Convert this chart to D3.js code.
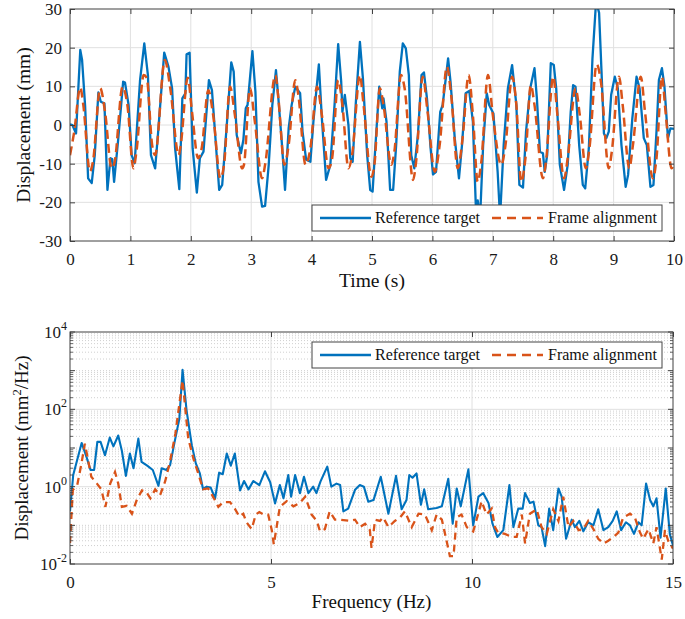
<!DOCTYPE html>
<html>
<head>
<meta charset="utf-8">
<script src="https://cdn.jsdelivr.net/npm/d3@7"></script>
<style>
  html, body { margin: 0; padding: 0; background: #fff; }
  svg { display: block; font-family: "Liberation Serif", "Times New Roman", serif; }
</style>
</head>
<body>
<svg id="chart" width="685" height="619"></svg>
<script>
// ---------------- Data: time history (top) ----------------
const blueT = [0,0.04,0.1,0.17,0.2,0.25,0.3,0.36,0.41,0.47,0.51,0.57,0.62,0.67,0.7,0.73,0.8,0.88,0.91,0.97,1.02,1.07,1.16,1.23,1.29,1.34,1.41,1.46,1.56,1.63,1.69,1.74,1.81,1.86,1.91,1.93,1.98,2.03,2.1,2.15,2.21,2.3,2.35,2.4,2.47,2.52,2.6,2.67,2.71,2.76,2.83,2.87,2.91,2.94,3.02,3.07,3.12,3.18,3.23,3.29,3.35,3.41,3.45,3.51,3.56,3.62,3.67,3.73,3.81,3.85,3.91,3.98,4.03,4.12,4.17,4.24,4.31,4.38,4.44,4.49,4.51,4.55,4.61,4.64,4.68,4.73,4.8,4.85,4.92,4.97,5.01,5.04,5.12,5.17,5.19,5.24,5.3,5.35,5.4,5.46,5.51,5.56,5.61,5.65,5.7,5.76,5.82,5.86,5.91,5.97,6.01,6.06,6.13,6.17,6.26,6.3,6.37,6.44,6.49,6.55,6.61,6.67,6.72,6.75,6.79,6.84,6.9,6.94,7.01,7.08,7.12,7.18,7.25,7.32,7.39,7.44,7.5,7.55,7.62,7.69,7.73,7.78,7.83,7.86,7.9,7.96,8.01,8.05,8.11,8.18,8.24,8.29,8.33,8.37,8.43,8.49,8.53,8.59,8.65,8.71,8.76,8.8,8.84,8.88,8.92,8.96,9.02,9.07,9.13,9.2,9.24,9.31,9.38,9.43,9.5,9.55,9.61,9.66,9.71,9.75,9.8,9.84,9.9,9.94,10];
const blueV = [0.2,0,-2.2,19.4,16.8,5,-13.8,-15,-7.8,8.4,6,5.6,-16.8,-8.6,-8.8,-14.7,-3.4,11.2,11,5.2,-7.8,-9.9,11.6,21.1,12.9,-7.8,-11.2,-1.7,18.7,15.1,9.5,-6,-16.6,6.9,8.2,18.3,18.7,-6,-17.5,-8.6,-6.9,11.6,9,-1.7,-16.8,-15.5,0.9,16.2,13.8,-2.6,-7.3,-3.9,4.3,5.2,19.1,8.6,-14.7,-21.1,-20.9,-10.3,5.2,14.2,6.9,-5.2,-16.8,-0.9,5.2,9.9,8.2,-1.7,-9,-9.5,0.9,15.7,1.7,-14.2,-10.3,5.2,20.9,11.2,3.4,7.8,0,-8.6,-9.5,5.2,21.5,12,-7.8,-16.8,-17.2,-9.5,9.9,4.3,6.9,0.9,-16.8,-16.8,-5.2,13.8,21.1,19.8,12.9,-7.8,-11.2,-2.6,12.9,13.6,6.9,-6,-12.8,-12.1,3.4,5.2,17.2,11.2,-3.4,-13.8,-5.2,8.2,8.8,0.9,-21.5,-19.5,-24,-5.2,8.2,5.2,3,-12.1,-24,-5.2,9.5,15.5,5.2,-15.5,-16.2,-1.7,9.5,14.7,6.9,-6.9,-7.3,-12.1,-7.8,16,15.5,9.5,-10.3,-16.8,-10.3,3.4,10.3,9.9,-5.2,-15.5,-16.4,-6,17.2,32,29,13.8,-2.2,-3.4,-1.7,7.8,12.5,9.5,-5.2,-16,-12.9,1.7,12.5,9.5,-3.4,-5.2,-16,-15.5,-1.7,11.6,14.7,10.3,-3.4,-0.9,-1];

const orangeT = [0,0.07,0.17,0.22,0.33,0.38,0.5,0.58,0.69,0.74,0.87,0.95,1.05,1.1,1.22,1.27,1.36,1.41,1.57,1.66,1.8,1.83,1.95,2.02,2.12,2.18,2.29,2.37,2.49,2.55,2.65,2.73,2.85,2.88,2.98,3.06,3.18,3.23,3.4,3.45,3.55,3.62,3.73,3.78,3.9,3.98,4.09,4.17,4.28,4.34,4.44,4.51,4.61,4.67,4.8,4.86,4.99,5.04,5.13,5.19,5.32,5.37,5.48,5.54,5.68,5.73,5.84,5.92,6.04,6.12,6.24,6.31,6.42,6.5,6.6,6.67,6.75,6.81,6.92,7.0,7.14,7.21,7.32,7.39,7.47,7.54,7.63,7.69,7.83,7.88,8.0,8.07,8.18,8.24,8.37,8.44,8.54,8.6,8.72,8.79,8.92,8.97,9.09,9.15,9.26,9.32,9.45,9.52,9.65,9.71,9.8,9.86,9.96,10];
const orangeV = [-7.8,-1.7,9.7,5.2,-12,-9.5,9.5,3.4,-11.2,-9.5,9.9,5.2,-11.2,-6.9,12.9,12.2,-5.2,-7.8,16.8,9.5,-7.8,-5.6,12.2,3.4,-8.6,-6,9,2.6,-13.8,-10.3,9.9,2.6,-11.2,-10.3,9.5,0.9,-13.8,-10.3,12.9,6.9,-10.3,-5.2,11.6,7.8,-10.3,-6,9.9,2.6,-11.2,-8.6,11.6,5.2,-11.2,-7.8,12.9,5.2,-13.4,-10.3,9.5,5.2,-10.3,-6.9,12.9,9.5,-14.2,-9.5,12.5,3.4,-12.1,-5.2,15.1,7.8,-11.2,-3.4,12.9,2.6,-14.7,-9.5,12.9,2.6,-10.3,-5.2,12.5,5.2,-14.7,-8.6,10.3,5.2,-13.8,-9.5,12.5,2.6,-13.8,-8.6,9.5,2.6,-11.2,-6,15.7,11.2,-11.2,-6.9,12.5,5.2,-11.2,-5.2,12.5,3.4,-13.8,-8.6,12.5,3.4,-11.2,-10];

// ---------------- Data: PSD (bottom) ----------------
const freqBlue = [0,0.08,0.29,0.41,0.51,0.6,0.68,0.76,0.87,0.99,1.08,1.2,1.29,1.39,1.49,1.58,1.7,1.78,1.92,2.06,2.2,2.28,2.4,2.49,2.6,2.72,2.8,2.9,3.03,3.13,3.23,3.31,3.4,3.5,3.61,3.71,3.8,3.9,4.0,4.1,4.23,4.33,4.44,4.56,4.71,4.85,4.98,5.1,5.22,5.31,5.43,5.5,5.6,5.72,5.82,5.93,6.05,6.13,6.23,6.4,6.5,6.63,6.72,6.8,6.92,7.09,7.21,7.31,7.42,7.55,7.73,7.92,8.11,8.25,8.37,8.44,8.52,8.62,8.73,8.81,8.91,9.12,9.25,9.41,9.52,9.62,9.72,9.91,10.03,10.16,10.28,10.41,10.51,10.63,10.78,10.93,11.03,11.15,11.26,11.32,11.44,11.53,11.65,11.73,11.82,11.92,12.02,12.15,12.23,12.34,12.48,12.56,12.67,12.77,12.89,13.02,13.14,13.27,13.39,13.5,13.6,13.71,13.83,13.93,14.03,14.14,14.22,14.33,14.43,14.51,14.59,14.69,14.82,14.92,15];
const psdBlue = [0.23,2,13.5,5.9,2.7,2.7,14.4,14.4,6.5,18.6,11,21,8.5,1.9,7.2,3,17.5,4.4,3.5,2.7,1.05,3,2.7,3.6,14,57,1050,93,11.8,4,2.2,0.86,1,0.95,0.5,2.3,2.1,7.2,3.5,7.2,0.8,1.4,0.85,1.4,1.1,2.5,1.3,0.37,1.1,0.5,2,0.55,2,0.68,1.8,0.68,1,0.68,1.35,3.3,1,1.2,1.1,0.23,0.27,0.83,1.1,1,0.41,0.45,1.8,0.2,1.9,0.26,0.45,2,1.7,2.2,0.34,0.85,0.26,0.28,0.31,1.6,0.11,0.9,0.31,2.8,0.1,0.55,0.68,0.38,0.11,0.05,0.075,1.1,0.09,0.27,0.27,0.68,0.38,0.41,0.1,0.09,0.029,0.27,0.075,0.9,0.55,0.045,0.14,0.09,0.13,0.07,0.12,0.1,0.26,0.075,0.09,0.13,0.23,0.075,0.12,0.1,0.06,0.12,0.1,1.2,0.45,0.31,0.5,0.048,0.9,0.06,0.03];

const freqOrange = [0,0.07,0.18,0.28,0.37,0.53,0.67,0.78,0.88,1.0,1.12,1.2,1.29,1.41,1.54,1.66,1.79,1.89,2.0,2.12,2.24,2.37,2.49,2.62,2.8,2.94,3.07,3.19,3.31,3.44,3.58,3.69,3.81,3.98,4.1,4.21,4.31,4.39,4.52,4.62,4.71,4.82,4.93,5.02,5.07,5.22,5.39,5.56,5.72,5.85,6.01,6.14,6.22,6.34,6.46,6.59,6.72,6.96,7.09,7.21,7.34,7.46,7.5,7.59,7.71,7.79,7.92,8.08,8.21,8.33,8.5,8.67,8.83,9.0,9.12,9.25,9.33,9.45,9.54,9.62,9.74,9.87,10.03,10.13,10.24,10.36,10.49,10.57,10.65,10.82,10.99,11.11,11.24,11.32,11.44,11.61,11.73,11.86,12.02,12.15,12.27,12.4,12.52,12.65,12.77,12.89,13.02,13.14,13.27,13.39,13.52,13.64,13.76,13.93,14.05,14.18,14.26,14.39,14.51,14.59,14.72,14.8,14.88,15];
const psdOrange = [0.035,0.82,1.1,3.7,13,1.8,1.2,0.85,0.3,1.2,2.4,1.2,0.3,0.32,0.2,0.45,0.8,0.75,0.5,0.85,0.6,1.4,4.6,23,560,18,5.3,2.2,0.86,0.9,0.5,0.3,0.4,0.4,0.27,0.17,0.2,0.12,0.08,0.19,0.22,0.19,0.19,0.075,0.032,0.3,0.42,0.31,0.38,0.55,0.19,0.13,0.07,0.08,0.23,0.14,0.14,0.13,0.14,0.09,0.11,0.075,0.026,0.14,0.13,0.16,0.09,0.13,0.16,0.23,0.09,0.2,0.19,0.075,0.19,0.14,0.06,0.016,0.016,0.16,0.19,0.09,0.07,0.16,0.42,0.19,0.27,0.09,0.065,0.06,0.05,0.05,0.19,0.034,0.2,0.26,0.09,0.06,0.26,0.13,0.55,0.09,0.13,0.075,0.08,0.13,0.08,0.045,0.034,0.04,0.05,0.065,0.16,0.2,0.16,0.065,0.045,0.08,0.034,0.09,0.013,0.075,0.04,0.025];

const seriesNames = ["Reference target", "Frame alignment"];
const topXTicks = [0,1,2,3,4,5,6,7,8,9,10];
const topYTicks = [-30,-20,-10,0,10,20,30];
const botXTicks = [0,5,10,15];
const botYTicks = [-2,0,2,4]; // exponents
// ------------------------------------------------------

const BLUE = "#0072BD", ORANGE = "#D95319", AXIS = "#404040", GRID = "#e0e0e0";
const svg = d3.select("#chart");
const fmt = d => String(d);

function frame(g, x0, x1, y0, y1) {
  g.append("rect").attr("x", x0).attr("y", y0).attr("width", x1 - x0).attr("height", y1 - y0)
    .attr("fill", "none").attr("stroke", AXIS).attr("stroke-width", 1);
}

// ================= TOP PLOT =================
const T = {l: 70, r: 674, t: 9, b: 241};
const xT = d3.scaleLinear().domain([0, 10]).range([T.l, T.r]);
const yT = d3.scaleLinear().domain([-30, 30]).range([T.b, T.t]);
const gT = svg.append("g");

gT.append("g").selectAll("line").data(topXTicks.slice(1, -1)).join("line")
  .attr("x1", d => xT(d)).attr("x2", d => xT(d)).attr("y1", T.t).attr("y2", T.b)
  .attr("stroke", GRID).attr("stroke-width", 1);
gT.append("g").selectAll("line").data(topYTicks.slice(1, -1)).join("line")
  .attr("y1", d => yT(d)).attr("y2", d => yT(d)).attr("x1", T.l).attr("x2", T.r)
  .attr("stroke", GRID).attr("stroke-width", 1);

svg.append("clipPath").attr("id", "clipT").append("rect")
  .attr("x", T.l).attr("y", T.t).attr("width", T.r - T.l).attr("height", T.b - T.t);

const orangeData = orangeT.map((t, i) => [t, orangeV[i]]);
const blueData = blueT.map((t, i) => [t, blueV[i]]);
const plotT = gT.append("g").attr("clip-path", "url(#clipT)");
plotT.append("path").datum(blueData).attr("d", d3.line().x(d => xT(d[0])).y(d => yT(d[1])))
  .attr("fill", "none").attr("stroke", BLUE).attr("stroke-width", 2.3).attr("stroke-linejoin", "round");
plotT.append("path").datum(orangeData).attr("d", d3.line().x(d => xT(d[0])).y(d => yT(d[1])).curve(d3.curveMonotoneX))
  .attr("fill", "none").attr("stroke", ORANGE).attr("stroke-width", 2.5).attr("stroke-dasharray", "9,5");

const axBT = gT.append("g").attr("transform", `translate(0,${T.b})`)
  .call(d3.axisBottom(xT).tickValues(topXTicks).tickSize(-5).tickPadding(12).tickFormat(fmt));
const axTT = gT.append("g").attr("transform", `translate(0,${T.t})`)
  .call(d3.axisTop(xT).tickValues(topXTicks).tickSize(-5).tickFormat(""));
const axLT = gT.append("g").attr("transform", `translate(${T.l},0)`)
  .call(d3.axisLeft(yT).tickValues(topYTicks).tickSize(-5).tickPadding(8).tickFormat(fmt));
const axRT = gT.append("g").attr("transform", `translate(${T.r},0)`)
  .call(d3.axisRight(yT).tickValues(topYTicks).tickSize(-5).tickFormat(""));
[axBT, axTT, axLT, axRT].forEach(a => {
  a.select(".domain").remove();
  a.selectAll("line").attr("stroke", AXIS);
  a.selectAll("text").attr("font-family", "Liberation Serif").attr("font-size", 17).attr("fill", "#1a1a1a");
});
frame(gT, T.l, T.r, T.t, T.b);

gT.append("text").attr("x", (T.l + T.r) / 2).attr("y", 287).attr("text-anchor", "middle")
  .attr("font-size", 19.5).attr("fill", "#111").text("Time (s)");
gT.append("text").attr("transform", `translate(30,${(T.t + T.b) / 2}) rotate(-90)`).attr("text-anchor", "middle")
  .attr("font-size", 19.5).attr("fill", "#111").text("Displacement (mm)");

function legend(g, x, y, w, h) {
  g.append("rect").attr("x", x).attr("y", y).attr("width", w).attr("height", h)
    .attr("fill", "#fff").attr("stroke", "#444").attr("stroke-width", 1);
  const cy = y + h / 2;
  g.append("line").attr("x1", x + 8).attr("x2", x + 59).attr("y1", cy).attr("y2", cy)
    .attr("stroke", BLUE).attr("stroke-width", 2.3);
  g.append("text").attr("x", x + 63).attr("y", cy + 5).attr("font-size", 16).attr("fill", "#111").text(seriesNames[0]);
  g.append("line").attr("x1", x + 180).attr("x2", x + 231).attr("y1", cy).attr("y2", cy)
    .attr("stroke", ORANGE).attr("stroke-width", 2.5).attr("stroke-dasharray", "9,6");
  g.append("text").attr("x", x + 236).attr("y", cy + 5).attr("font-size", 16).attr("fill", "#111").text(seriesNames[1]);
}
legend(gT, 312, 205, 350, 26);

// ================= BOTTOM PLOT =================
const B = {l: 70, r: 673, t: 332, b: 564};
const xB = d3.scaleLinear().domain([0, 15]).range([B.l, B.r]);
const yB = d3.scaleLog().domain([1e-2, 1e4]).range([B.b, B.t]);
const gB = svg.append("g");

const minorVals = [];
for (let e = -2; e < 4; e++) for (let m = 2; m <= 9; m++) minorVals.push(m * Math.pow(10, e));
for (let e = -1; e <= 3; e += 2) minorVals.push(Math.pow(10, e));
gB.append("g").selectAll("line").data(minorVals).join("line")
  .attr("y1", d => yB(d)).attr("y2", d => yB(d)).attr("x1", B.l).attr("x2", B.r)
  .attr("stroke", "#c4c4c4").attr("stroke-width", 0.8).attr("stroke-dasharray", "1,2");
gB.append("g").selectAll("line").data(botYTicks.slice(1, -1)).join("line")
  .attr("y1", d => yB(Math.pow(10, d))).attr("y2", d => yB(Math.pow(10, d))).attr("x1", B.l).attr("x2", B.r)
  .attr("stroke", GRID).attr("stroke-width", 1);
gB.append("g").selectAll("line").data(botXTicks.slice(1, -1)).join("line")
  .attr("x1", d => xB(d)).attr("x2", d => xB(d)).attr("y1", B.t).attr("y2", B.b)
  .attr("stroke", GRID).attr("stroke-width", 1);

svg.append("clipPath").attr("id", "clipB").append("rect")
  .attr("x", B.l).attr("y", B.t).attr("width", B.r - B.l).attr("height", B.b - B.t);
const plotB = gB.append("g").attr("clip-path", "url(#clipB)");
const lineB = d3.line().x(d => xB(d[0])).y(d => yB(d[1]));
plotB.append("path").datum(freqBlue.map((f, i) => [f, psdBlue[i]])).attr("d", lineB)
  .attr("fill", "none").attr("stroke", BLUE).attr("stroke-width", 2.1).attr("stroke-linejoin", "round");
plotB.append("path").datum(freqOrange.map((f, i) => [f, psdOrange[i]])).attr("d", lineB)
  .attr("fill", "none").attr("stroke", ORANGE).attr("stroke-width", 2.3).attr("stroke-dasharray", "7,5");

const axBB = gB.append("g").attr("transform", `translate(0,${B.b})`)
  .call(d3.axisBottom(xB).tickValues(botXTicks).tickSize(-5).tickPadding(12).tickFormat(fmt));
const axTB = gB.append("g").attr("transform", `translate(0,${B.t})`)
  .call(d3.axisTop(xB).tickValues(botXTicks).tickSize(-5).tickFormat(""));
[axBB, axTB].forEach(a => {
  a.select(".domain").remove();
  a.selectAll("line").attr("stroke", AXIS);
  a.selectAll("text").attr("font-family", "Liberation Serif").attr("font-size", 17).attr("fill", "#1a1a1a");
});
const majorY = d3.range(-2, 5).map(e => Math.pow(10, e));
[[B.l, 1], [B.r, -1]].forEach(([x, s]) => {
  gB.append("g").selectAll("line").data(majorY).join("line")
    .attr("x1", x).attr("x2", x + s * 5).attr("y1", d => yB(d)).attr("y2", d => yB(d)).attr("stroke", AXIS);
  gB.append("g").selectAll("line").data(minorVals.filter(v => !majorY.includes(v))).join("line")
    .attr("x1", x).attr("x2", x + s * 3).attr("y1", d => yB(d)).attr("y2", d => yB(d)).attr("stroke", AXIS).attr("stroke-width", 0.8);
});
const yl = gB.append("g").selectAll("text").data(botYTicks).join("text")
  .attr("x", 0).attr("y", d => yB(Math.pow(10, d)) + 6)
  .attr("text-anchor", "end").attr("font-size", 17).attr("fill", "#1a1a1a")
  .attr("transform", "translate(67,0)");
yl.append("tspan").text("10");
yl.append("tspan").attr("dy", -8).attr("font-size", 12).text(d => String(d));
frame(gB, B.l, B.r, B.t, B.b);

gB.append("text").attr("x", (B.l + B.r) / 2).attr("y", 608).attr("text-anchor", "middle")
  .attr("font-size", 19).attr("fill", "#111").text("Frequency (Hz)");
const ylab = gB.append("text").attr("transform", `translate(28,${(B.t + B.b) / 2}) rotate(-90)`).attr("text-anchor", "middle")
  .attr("font-size", 19).attr("fill", "#111");
ylab.append("tspan").text("Displacement (mm");
ylab.append("tspan").attr("dy", -7).attr("font-size", 12.5).text("2");
ylab.append("tspan").attr("dy", 7).text("/Hz)");

legend(gB, 312, 342, 350, 26);
</script>
</body>
</html>
